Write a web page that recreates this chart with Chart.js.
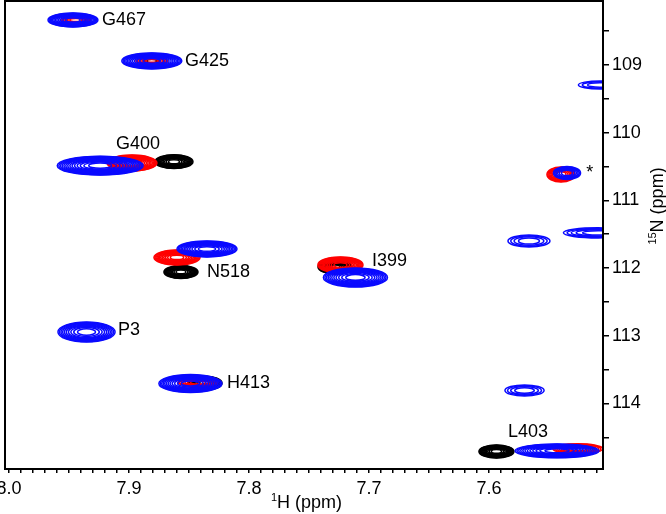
<!DOCTYPE html>
<html>
<head>
<meta charset="utf-8">
<script src="https://cdn.jsdelivr.net/npm/chart.js@4.4.0/dist/chart.umd.min.js"></script>
<style>
  html, body { margin: 0; padding: 0; background: #fff; }
  #wrap { width: 666px; height: 514px; }
</style>
</head>
<body>
<div id="wrap"><canvas id="hsqc"></canvas></div>
<script>
// Pics du spectre noir : centre (1H, 15N), demi-largeurs (ppm), nombre de niveaux
const blackH  = [7.8625, 7.8567, 7.7283, 7.8367, 7.5938, 7.881];
const blackN  = [110.428, 112.058, 111.984, 113.700, 114.709, 108.94];
const blackWH = [0.0158, 0.0142, 0.0142, 0.0142, 0.0146, 0.0067];
const blackWN = [0.103, 0.096, 0.103, 0.103, 0.096, 0.044];
const blackLv = [12, 12, 12, 10, 12, 3];

// Pics du spectre rouge
const redH  = [7.9442, 7.881, 7.8975, 7.860, 7.7238, 7.8425, 7.540, 7.526];
const redN  = [108.335, 108.94, 110.448, 111.843, 111.954, 113.690, 110.617, 114.670];
const redWH = [0.0125, 0.0133, 0.0208, 0.0192, 0.0188, 0.0167, 0.0117, 0.0208];
const redWN = [0.052, 0.052, 0.118, 0.111, 0.118, 0.059, 0.111, 0.074];
const redLv = [6, 6, 12, 12, 12, 7, 8, 7];

// Pics du spectre bleu
const blueH  = [7.9467, 7.881, 7.924, 7.835, 7.7113, 7.9354, 7.8488, 7.535, 7.5667, 7.509, 7.5075, 7.5704, 7.5433];
const blueN  = [108.335, 108.94, 110.487, 111.718, 112.139, 112.944, 113.705, 110.595, 111.600, 111.480, 109.295, 113.808, 114.700];
const blueWH = [0.0208, 0.025, 0.0358, 0.025, 0.0267, 0.0238, 0.0263, 0.0113, 0.0175, 0.029, 0.018, 0.0163, 0.035];
const blueWN = [0.103, 0.118, 0.14, 0.118, 0.14, 0.148, 0.133, 0.096, 0.089, 0.074, 0.059, 0.081, 0.103];
const blueLv = [12, 12, 14, 12, 11, 10, 12, 6, 4, 5, 3, 4, 12];

// Annotations (texte, position du bord gauche en 1H, 15N)
const labelText = ['G467', 'G425', 'G400', 'N518', 'I399', 'P3', 'H413', 'L403', '*'];
const labelH    = [7.9225, 7.8533, 7.9108, 7.835, 7.6975, 7.9092, 7.8183, 7.5842, 7.519];
const labelN    = [108.335, 108.94, 110.167, 112.058, 111.895, 112.914, 113.697, 114.421, 110.60];

// Axes
const xMin = 7.505, xMax = 8.00333;
const yMin = 108.055, yMax = 114.968;

const FONT = "'Liberation Sans', Arial, Helvetica, sans-serif";

function peaks(H, N, WH, WN, LV) {
    return H.map((h, i) => ({ x: h, y: N[i], wH: WH[i], wN: WN[i], lv: LV[i] }));
}

// Dessin des contours (ellipses concentriques)
const contourPlugin = {
    id: 'contours',
    afterDatasetsDraw(chart) {
        const { ctx, chartArea: a, scales: { x, y } } = chart;
        ctx.save();
        ctx.beginPath();
        ctx.rect(a.left, a.top, a.right - a.left, a.bottom - a.top);
        ctx.clip();
        chart.data.datasets.forEach(ds => {
            ctx.strokeStyle = ds.borderColor;
            ctx.lineWidth = 1.5;
            ds.data.forEach(p => {
                const cx = x.getPixelForValue(p.x);
                const cy = y.getPixelForValue(p.y);
                const rx = Math.abs(x.getPixelForValue(p.x + p.wH) - cx);
                const ry = Math.abs(y.getPixelForValue(p.y + p.wN) - cy);
                for (let i = 0; i < p.lv; i++) {
                    const k = Math.sqrt(1 - i / p.lv);
                    ctx.beginPath();
                    ctx.ellipse(cx, cy, rx * k, ry * k, 0, 0, Math.PI * 2);
                    ctx.stroke();
                }
            });
        });
        ctx.restore();
    }
};

// Annotations, cadre et titres des axes
const decorPlugin = {
    id: 'decor',
    afterDraw(chart) {
        const { ctx, chartArea: a, scales: { x, y } } = chart;
        ctx.save();
        ctx.fillStyle = '#000';
        ctx.font = '18px ' + FONT;
        ctx.textAlign = 'left';
        ctx.textBaseline = 'middle';
        labelText.forEach((t, i) => {
            ctx.fillText(t, x.getPixelForValue(labelH[i]), y.getPixelForValue(labelN[i]));
        });

        // cadre
        ctx.strokeStyle = '#000';
        ctx.lineWidth = 2;
        ctx.strokeRect(a.left, a.top, a.right - a.left, a.bottom - a.top);

        // titre axe X : 1H (ppm)
        ctx.textBaseline = 'alphabetic';
        ctx.font = '11px ' + FONT;
        const supW = ctx.measureText('1').width;
        ctx.font = '18px ' + FONT;
        const mainW = ctx.measureText('H (ppm)').width;
        let tx = 306.5 - (supW + mainW) / 2;
        ctx.font = '11px ' + FONT;
        ctx.fillText('1', tx, 501);
        ctx.font = '18px ' + FONT;
        ctx.fillText('H (ppm)', tx + supW, 508);

        // titre axe Y : 15N (ppm), vertical
        ctx.translate(663, 206);
        ctx.rotate(-Math.PI / 2);
        ctx.font = '11px ' + FONT;
        const supW2 = ctx.measureText('15').width;
        ctx.font = '18px ' + FONT;
        const mainW2 = ctx.measureText('N (ppm)').width;
        tx = -(supW2 + mainW2) / 2;
        ctx.font = '11px ' + FONT;
        ctx.fillText('15', tx, -7);
        ctx.font = '18px ' + FONT;
        ctx.fillText('N (ppm)', tx + supW2, 0);
        ctx.restore();
    }
};

const ctx = document.getElementById('hsqc').getContext('2d');
const chart = new Chart(ctx, {
    type: 'scatter',
    data: {
        datasets: [
            { label: 'noir', data: peaks(blackH, blackN, blackWH, blackWN, blackLv), borderColor: '#000000', pointRadius: 0 },
            { label: 'rouge', data: peaks(redH, redN, redWH, redWN, redLv), borderColor: '#ff0000', pointRadius: 0 },
            { label: 'bleu', data: peaks(blueH, blueN, blueWH, blueWN, blueLv), borderColor: '#0a0aff', pointRadius: 0 }
        ]
    },
    options: {
        responsive: true,
        maintainAspectRatio: false,
        animation: false,
        events: [],
        layout: { padding: { left: 5, top: 1, right: 0, bottom: 0 } },
        plugins: {
            legend: { display: false },
            tooltip: { enabled: false }
        },
        scales: {
            x: {
                type: 'linear',
                reverse: true,
                min: xMin,
                max: xMax,
                afterFit: s => { s.height = 45; s.paddingLeft = 0; s.paddingRight = 0; },
                border: { display: false },
                grid: { drawOnChartArea: false, drawTicks: true, tickLength: 4, color: '#000', lineWidth: 1.5 },
                ticks: {
                    stepSize: 0.01,
                    includeBounds: false,
                    autoSkip: false,
                    maxRotation: 0,
                    padding: 5,
                    color: '#000',
                    font: { family: FONT, size: 18 },
                    callback: v => Math.abs(v * 10 - Math.round(v * 10)) < 1e-6 ? v.toFixed(1) : ''
                }
            },
            y: {
                type: 'linear',
                position: 'right',
                reverse: true,
                min: yMin,
                max: yMax,
                afterFit: s => { s.width = 63; s.paddingTop = 0; s.paddingBottom = 0; },
                border: { display: false },
                grid: { drawOnChartArea: false, drawTicks: true, tickLength: 6, color: '#000', lineWidth: 1.5 },
                ticks: {
                    stepSize: 0.5,
                    includeBounds: false,
                    autoSkip: false,
                    padding: 3,
                    color: '#000',
                    font: { family: FONT, size: 18 },
                    callback: v => Math.abs(v - Math.round(v)) < 1e-6 ? String(Math.round(v)) : ''
                }
            }
        }
    },
    plugins: [contourPlugin, decorPlugin]
});
</script>
</body>
</html>
